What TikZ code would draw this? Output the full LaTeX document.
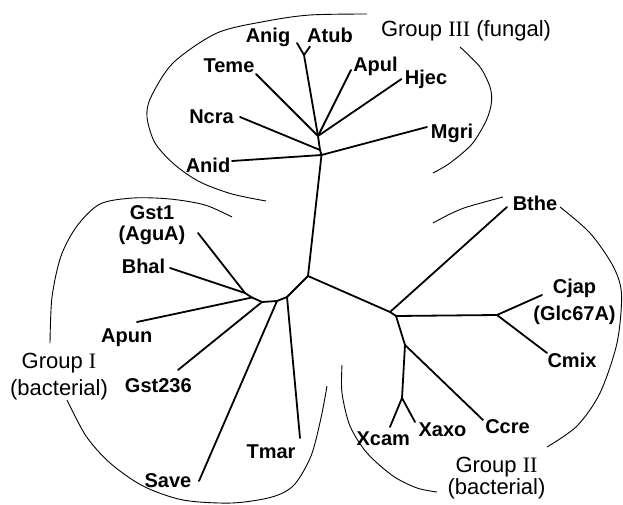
\documentclass[tikz,border=0pt]{standalone}
\usepackage{fontspec}
\setmainfont{Liberation Sans}
\newfontfamily\romfont{Liberation Serif}
\tikzset{
  branch/.style={line width=1.8pt, line cap=round, line join=round},
  hull/.style={line width=0.9pt},
  taxon/.style={font=\bfseries\fontsize{20}{21}\selectfont, inner sep=0pt, text height=14.3pt, text depth=0pt},
  taxontwo/.style={font=\bfseries\fontsize{20}{21}\selectfont, inner sep=0pt, align=center, anchor=north},
  grp/.style={font=\fontsize{22}{20}\selectfont, inner sep=0pt, text height=15.8pt, text depth=0pt},
  grptwo/.style={font=\fontsize{22}{20}\selectfont, inner sep=0pt, align=center, anchor=north}
}
\begin{document}
\begin{tikzpicture}[x=1pt,y=-1pt]
\useasboundingbox (0,0) rectangle (623,505);
\coordinate (nT) at (304,55);
\coordinate (nA) at (318,136);
\coordinate (nN) at (320,150);
\coordinate (nB) at (321.5,155);
\coordinate (nR) at (308,276);
\coordinate (nC) at (287,297);
\coordinate (nS) at (277,301);
\coordinate (nD) at (262,302);
\coordinate (nP) at (252,297.5);
\coordinate (nE) at (245,293);
\coordinate (nF) at (390,312);
\coordinate (nK) at (396,316);
\coordinate (nG) at (497,315);
\coordinate (nH) at (405,345);
\coordinate (nI) at (402,398);
\coordinate (tAnig) at (297,43);
\coordinate (tAtub) at (310,46.5);
\coordinate (tTeme) at (256,74);
\coordinate (tApul) at (351,70);
\coordinate (tHjec) at (401.5,79);
\coordinate (tNcra) at (240,117);
\coordinate (tMgri) at (427,127);
\coordinate (tAnid) at (232,161);
\coordinate (tGst1) at (198,233);
\coordinate (tBhal) at (170,268);
\coordinate (tApun) at (137,322);
\coordinate (tGst236) at (178,370);
\coordinate (tSave) at (199,481);
\coordinate (tTmar) at (300,438);
\coordinate (tBthe) at (507,207);
\coordinate (tCjap) at (542,295);
\coordinate (tCmix) at (547,353);
\coordinate (tCcre) at (483,420);
\coordinate (tXcam) at (390,427);
\coordinate (tXaxo) at (415,422);
\node[taxon] (Anig) at (268,35) {Anig};
\node[taxon] (Atub) at (330,35) {Atub};
\node[taxon] (Teme) at (229,65) {Teme};
\node[taxon] (Apul) at (375.5,64.5) {Apul};
\node[taxon] (Hjec) at (426,77.5) {Hjec};
\node[taxon] (Ncra) at (211.5,116) {Ncra};
\node[taxon] (Mgri) at (452,131) {Mgri};
\node[taxon] (Anid) at (208,165) {Anid};
\node[taxontwo] (Gst1) at (152,205.8) {Gst1\\(AguA)};
\node[taxon] (Bhal) at (143.5,266.7) {Bhal};
\node[taxon] (Apun) at (126.7,335) {Apun};
\node[taxon] (Gst236) at (158.3,385) {Gst236};
\node[taxon] (Save) at (168,480) {Save};
\node[taxon] (Tmar) at (271,451) {Tmar};
\node[taxon] (Bthe) at (535,203.3) {Bthe};
\node[taxontwo] (Cjap) at (574.5,279.2) {Cjap\\[5.7pt](Glc67A)};
\node[taxon] (Cmix) at (572,360) {Cmix};
\node[taxon] (Ccre) at (507.5,426.7) {Ccre};
\node[taxon] (Xaxo) at (442.5,429.3) {Xaxo};
\node[taxon] (Xcam) at (383.3,438.3) {Xcam};
\node[grp] (g3) at (466,29) {Group {\romfont III} (fungal)};
\node[grptwo] (g1) at (59,353) {Group {\romfont I}\\[5pt](bacterial)};
\node[grptwo] (g2) at (496.5,457) {Group {\romfont II}\\(bacterial)};
\draw[branch] (nT) to (tAnig);
\draw[branch] (nT) to (tAtub);
\draw[branch] (nT) to (nA);
\draw[branch] (nA) to (tTeme);
\draw[branch] (nA) to (tApul);
\draw[branch] (nA) to (tHjec);
\draw[branch] (nA) to (nN);
\draw[branch] (nN) to (tNcra);
\draw[branch] (nN) to (nB);
\draw[branch] (nB) to (tMgri);
\draw[branch] (nB) to (tAnid);
\draw[branch] (nB) to (nR);
\draw[branch] (nR) to (nC);
\draw[branch] (nC) to (tTmar);
\draw[branch] (nC) to (nS);
\draw[branch] (nS) to (tSave);
\draw[branch] (nS) to (nD);
\draw[branch] (nD) to (tGst236);
\draw[branch] (nD) to (nP);
\draw[branch] (nP) to (tApun);
\draw[branch] (nP) to (nE);
\draw[branch] (nE) to (tGst1);
\draw[branch] (nE) to (tBhal);
\draw[branch] (nR) to (nF);
\draw[branch] (nF) to (tBthe);
\draw[branch] (nF) to (nK);
\draw[branch] (nK) to (nG);
\draw[branch] (nG) to (tCjap);
\draw[branch] (nG) to (tCmix);
\draw[branch] (nK) to (nH);
\draw[branch] (nH) to (tCcre);
\draw[branch] (nH) to (nI);
\draw[branch] (nI) to (tXcam);
\draw[branch] (nI) to (tXaxo);
\draw[hull] plot[smooth] coordinates {(367,14) (310,15) (267,21) (217,33) (173,63) (151,97) (147,117) (155,143) (175,165) (200,182) (232,194) (266,201)};
\draw[hull] plot[smooth] coordinates {(460,47) (480,67) (490,87) (491.5,102) (486.5,120) (472,144) (450,163) (433,173)};
\draw[hull] plot[smooth] coordinates {(232,217) (205,205) (170,199) (133,198) (100,204) (77,226) (61,256) (52,297) (50,343)};
\draw[hull] plot[smooth] coordinates {(67,400) (86,436) (110,463) (143,486) (183,500) (232,503) (272,497) (294,485) (311,456) (321,418) (327,386)};
\draw[hull] plot[smooth] coordinates {(433,223) (450,214) (467,207) (503,197)};
\draw[hull] plot[smooth] coordinates {(560,207) (590,233) (613,266) (621.5,294) (617,343) (600,393) (577,426) (547,447)};
\draw[hull] plot[smooth] coordinates {(342,365) (342,393) (350,426) (367,453) (393,476) (417,488) (437,492)};
\end{tikzpicture}
\end{document}
